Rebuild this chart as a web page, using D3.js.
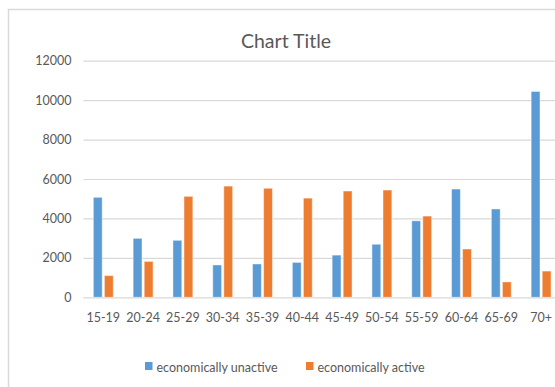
<!DOCTYPE html>
<html>
<head>
<meta charset="utf-8">
<script src="https://cdn.jsdelivr.net/npm/d3@7"></script>
<style>
  html, body { margin: 0; padding: 0; background: #ffffff; overflow: hidden; }
  svg { display: block; }
  text { font-family: Lato, "Open Sans", sans-serif; fill: #595959; }
</style>
</head>
<body>
<svg id="chart" width="555" height="387"></svg>
<script>
// Age groups on the category axis
const categories = ["15-19", "20-24", "25-29", "30-34", "35-39", "40-44",
                    "45-49", "50-54", "55-59", "60-64", "65-69", "70+"];
// Series names (legend order)
const seriesNames = ["economically unactive", "economically active"];
// Values per age group
const unactiveValues = [5070, 2990, 2890, 1640, 1690, 1770, 2140, 2690, 3880, 5490, 4480, 10440];
const activeValues   = [1100, 1820, 5120, 5640, 5530, 5030, 5390, 5440, 4120, 2450, 780, 1330];
// Value axis ticks
const yTickValues = [0, 2000, 4000, 6000, 8000, 10000, 12000];
const chartTitle = "Chart Title";

const colors = {"economically unactive": "#5B9BD5", "economically active": "#ED7D31"};

const rows = categories.map((c, i) => ({
  category: c,
  values: [
    {series: seriesNames[0], value: unactiveValues[i]},
    {series: seriesNames[1], value: activeValues[i]}
  ]
}));

const svg = d3.select("#chart");

// Chart area frame (top and left edges visible)
svg.append("path")
  .attr("d", "M8.5,387 V9.5 H555")
  .attr("fill", "none")
  .attr("stroke", "#d9d9d9")
  .attr("stroke-width", 1.5);

const plot = {left: 83.4, right: 561.0, top: 60.7, bottom: 297.3};

const x0 = d3.scaleBand()
  .domain(categories)
  .range([plot.left, plot.right])
  .paddingInner(0)
  .paddingOuter(0);

const bw = x0.bandwidth();
const x1 = d3.scaleBand()
  .domain(seriesNames)
  .range([bw * 0.25, bw * 0.75])
  .paddingInner(0.2);

const y = d3.scaleLinear()
  .domain([0, 12000])
  .range([plot.bottom, plot.top]);

// Value axis with horizontal gridlines
const yAxis = svg.append("g")
  .attr("transform", `translate(${plot.left},0)`)
  .call(d3.axisLeft(y)
    .tickValues(yTickValues)
    .tickSize(-(plot.right - plot.left))
    .tickPadding(12)
    .tickFormat(d3.format("d")));
yAxis.select(".domain").remove();
yAxis.selectAll(".tick line").attr("stroke", "#d9d9d9").attr("stroke-width", 1.2);
yAxis.selectAll(".tick text")
  .style("font-size", "12.5px")
  .style("fill", "#595959");

// Bars
const groups = svg.append("g")
  .selectAll("g")
  .data(rows)
  .join("g")
  .attr("transform", d => `translate(${x0(d.category)},0)`);

groups.selectAll("rect")
  .data(d => d.values)
  .join("rect")
  .attr("x", d => x1(d.series))
  .attr("width", x1.bandwidth())
  .attr("y", d => y(d.value))
  .attr("height", d => y(0) - y(d.value))
  .attr("fill", d => colors[d.series])
  .attr("stroke", "rgba(255,255,255,0.45)")
  .attr("stroke-width", 1);

// Category axis
const xAxis = svg.append("g")
  .attr("transform", `translate(0,${plot.bottom})`)
  .call(d3.axisBottom(x0).tickSize(0).tickPadding(15.5));
xAxis.select(".domain").remove();
xAxis.selectAll(".tick text")
  .style("font-size", "12.5px")
  .style("fill", "#595959");

// Title
svg.append("text")
  .attr("x", 286)
  .attr("y", 48)
  .attr("text-anchor", "middle")
  .style("font-size", "19.5px")
  .style("fill", "#595959")
  .text(chartTitle);

// Legend
const legendX = [145, 306];
const legend = svg.append("g")
  .selectAll("g")
  .data(seriesNames)
  .join("g")
  .attr("transform", (d, i) => `translate(${legendX[i]},362)`);
legend.append("rect")
  .attr("width", 7.5)
  .attr("height", 8)
  .attr("fill", d => colors[d]);
legend.append("text")
  .attr("x", 11.5)
  .attr("y", 9.8)
  .style("font-size", "12.5px")
  .style("fill", "#595959")
  .text(d => d);
</script>
</body>
</html>
